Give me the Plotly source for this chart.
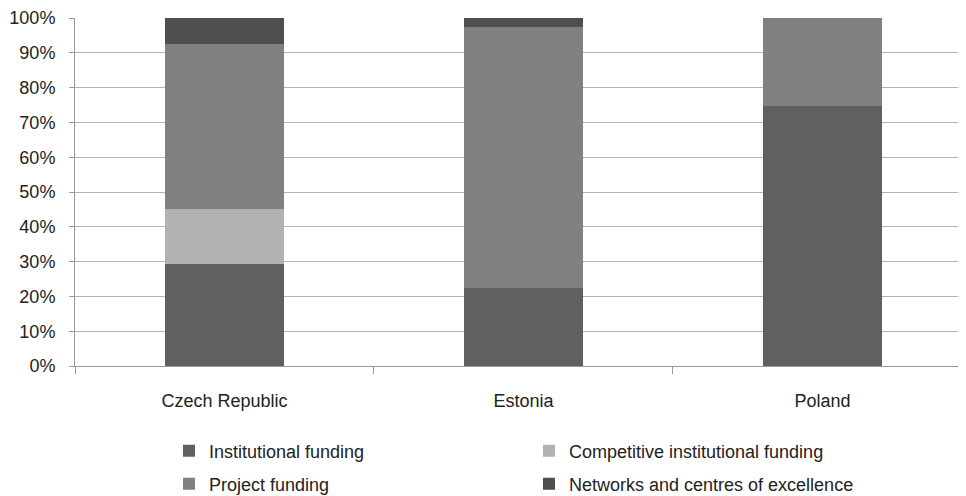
import plotly.graph_objects as go

countries = ["Czech Republic", "Estonia", "Poland"]
institutional = [29.4, 22.5, 74.6]
competitive = [15.6, 0.0, 0.0]
project = [47.4, 75.0, 25.4]
networks = [7.6, 2.5, 0.0]
y_ticks = [0, 10, 20, 30, 40, 50, 60, 70, 80, 90, 100]
y_labels = [f"{v}%" for v in y_ticks]

FONT = "Liberation Sans, Arial, sans-serif"
TXT = "#222"

series = [
    ("Institutional funding", institutional, "#606060", "legend", 161, 443),
    ("Competitive institutional funding", competitive, "#b2b2b2", "legend2", 521, 443),
    ("Project funding", project, "#808080", "legend3", 161, 476),
    ("Networks and centres of excellence", networks, "#4f4f4f", "legend4", 521, 476),
]

W, H = 966, 496
fig = go.Figure()
legends = {}
for name, vals, color, lg, lx, ly in series:
    fig.add_trace(go.Bar(
        x=countries, y=vals, name=name, marker_color=color,
        marker_line_width=0, width=0.4, legend=lg,
    ))
    legends[lg] = dict(
        orientation="h", xref="container", yref="container",
        x=lx / W, y=1 - ly / H, xanchor="left", yanchor="middle",
        font=dict(family=FONT, size=18, color=TXT), bgcolor="rgba(0,0,0,0)",
        itemwidth=30,
    )

fig.update_layout(
    width=W, height=H,
    margin=dict(l=67, r=8, t=10, b=138, autoexpand=False),
    paper_bgcolor="white", plot_bgcolor="white",
    barmode="stack",
    font=dict(family=FONT, size=18, color=TXT),
    showlegend=True,
    xaxis=dict(
        range=[-0.5, 2.48], showline=True, linecolor="#9a9a9a", linewidth=1,
        ticks="outside", tickson="boundaries", ticklen=7, tickcolor="#9a9a9a",
        ticklabelstandoff=18, showgrid=False,
    ),
    yaxis=dict(
        range=[0, 100], tickvals=y_ticks, ticktext=y_labels,
        showline=True, linecolor="#9a9a9a", linewidth=1,
        ticks="outside", ticklen=5, tickcolor="#9a9a9a",
        showgrid=True, gridcolor="#b4b4b4", gridwidth=1, zeroline=False,
        ticklabelstandoff=10,
    ),
    **legends,
)

fig.write_html("out.html")
